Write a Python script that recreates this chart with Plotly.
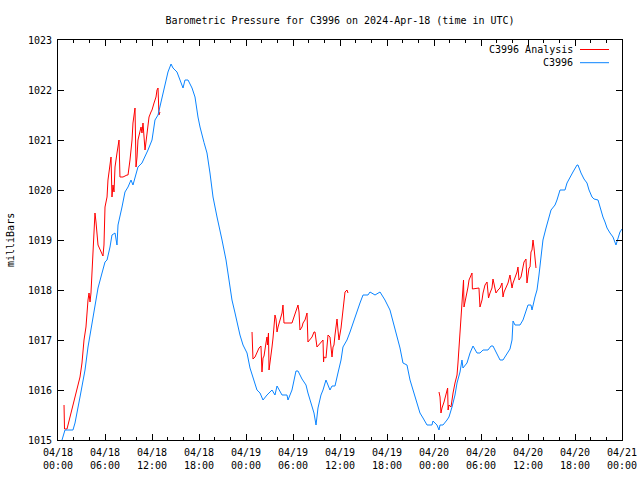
import pandas as pd
import plotly.graph_objects as go

START = "2024-04-18 00:00"
END = "2024-04-21 00:00"

# Hours since 2024-04-18 00:00 UTC and pressure (mb) for C3996
station_hours = [0.51, 0.89, 1.91, 2.17, 2.81, 3.45, 3.83, 4.34, 4.85, 5.11, 5.62, 6.0, 6.26, 6.64, 6.89, 7.28, 7.53, 7.66,
                 8.17, 8.55, 8.94, 9.32, 9.57, 9.83, 10.21, 10.72, 11.11, 11.49, 12.0, 12.38, 12.77, 13.28, 13.66, 14.04,
                 14.43, 14.68, 15.19, 15.57, 15.96, 16.21, 16.60, 17.11, 17.49, 17.87, 18.13, 18.64, 19.02, 19.40, 19.79,
                 20.30, 20.68, 20.94, 21.45, 21.83, 22.21, 22.60, 22.98, 23.23, 23.62, 24.13, 24.51, 24.89, 25.40, 25.79,
                 26.17, 26.68, 27.32, 27.70, 27.96, 28.60, 29.23, 29.36, 29.87, 30.38, 30.64, 31.15, 31.66, 31.91, 32.43,
                 32.68, 32.94, 33.19, 33.57, 33.83, 34.21, 34.72, 34.98, 35.36, 35.74, 36.13, 36.38, 36.89, 37.28, 37.66,
                 38.17, 38.55, 38.94, 39.57, 39.83, 40.47, 41.11, 41.74, 42.38, 43.02, 43.66, 44.04, 44.55, 44.94, 45.32,
                 45.83, 46.21, 46.60, 47.11, 47.74, 47.87, 48.38, 48.64, 48.77, 49.15, 49.66, 49.91, 50.30, 50.68, 50.94,
                 51.32, 51.57, 51.70, 52.21, 52.60, 52.98, 53.23, 53.49, 53.87, 54.26, 54.89, 55.28, 55.53, 55.79, 56.43,
                 56.81, 57.32, 57.70, 57.96, 58.09, 58.34, 58.98, 59.36, 59.74, 60.0, 60.38, 60.51, 60.89, 61.15, 61.40,
                 61.66, 61.91, 62.30, 62.55, 62.94, 63.45, 63.70, 64.09, 64.72, 64.98, 65.36, 65.74, 66.26, 66.38, 66.77,
                 67.15, 67.53, 67.79, 68.17, 68.43, 68.94, 69.19, 69.57, 69.83, 70.09, 70.47, 70.85, 71.23, 71.49, 71.74,
                 72.0]
station_mb = [1015.0, 1015.2, 1015.2, 1015.34, 1015.86, 1016.4, 1016.86, 1017.34, 1017.8, 1018.04, 1018.34, 1018.56,
              1018.6, 1018.86, 1019.1, 1019.14, 1018.9, 1019.3, 1019.66, 1019.96, 1020.06, 1020.2, 1020.1, 1020.26,
              1020.46, 1020.54, 1020.66, 1020.8, 1021.0, 1021.4, 1021.5, 1021.84, 1022.14, 1022.36, 1022.52, 1022.44,
              1022.36, 1022.2, 1022.04, 1022.2, 1022.2, 1022.04, 1021.86, 1021.46, 1021.26, 1020.95, 1020.74, 1020.34,
              1019.86, 1019.46, 1019.14, 1019.0, 1018.6, 1018.2, 1017.8, 1017.54, 1017.26, 1017.1, 1016.9, 1016.74,
              1016.44, 1016.24, 1016.0, 1015.94, 1015.8, 1015.9, 1016.0, 1015.9, 1016.08, 1015.9, 1015.9, 1015.8,
              1016.0, 1016.38, 1016.38, 1016.22, 1016.1, 1015.94, 1015.64, 1015.54, 1015.3, 1015.64, 1015.9, 1016.0,
              1016.2, 1016.0, 1016.08, 1016.08, 1016.34, 1016.6, 1016.86, 1017.0, 1017.16, 1017.34, 1017.54, 1017.74,
              1017.9, 1017.9, 1017.96, 1017.9, 1017.96, 1017.8, 1017.6, 1017.2, 1016.84, 1016.54, 1016.5, 1016.2,
              1016.0, 1015.76, 1015.54, 1015.44, 1015.3, 1015.3, 1015.38, 1015.3, 1015.2, 1015.3, 1015.3, 1015.4,
              1015.46, 1015.66, 1015.9, 1016.14, 1016.36, 1016.6, 1016.44, 1016.54, 1016.74, 1016.88, 1016.8, 1016.74,
              1016.74, 1016.8, 1016.8, 1016.88, 1016.88, 1016.8, 1016.6, 1016.6, 1016.72, 1016.82, 1017.0, 1017.38,
              1017.3, 1017.3, 1017.4, 1017.6, 1017.7, 1017.7, 1017.6, 1017.86, 1018.0, 1018.3, 1018.7, 1019.0,
              1019.24, 1019.4, 1019.6, 1019.7, 1019.8, 1020.0, 1020.0, 1020.14, 1020.26, 1020.36, 1020.5, 1020.5,
              1020.34, 1020.22, 1020.14, 1020.0, 1019.86, 1019.82, 1019.8, 1019.66, 1019.46, 1019.36, 1019.24,
              1019.14, 1019.06, 1018.9, 1019.04, 1019.16, 1019.22]

# Analysis series, three separate runs
analysis1_hours = [0.77, 0.83, 1.15, 2.43, 2.81, 3.06, 3.32, 3.57, 3.70, 3.83, 3.96, 4.09, 4.21, 4.30, 4.38, 4.47, 4.60,
                   4.72, 4.85, 5.11, 5.74, 5.87, 6.0, 6.26, 6.38, 6.64, 6.77, 6.89, 7.02, 7.15, 7.28, 7.53, 7.66, 7.79,
                   7.91, 8.30, 8.81, 8.94, 9.19, 9.45, 9.57, 9.70, 9.83, 9.96, 10.09, 10.21, 10.47, 10.60, 10.72, 10.85,
                   11.11, 11.36, 11.49, 11.62, 11.87, 12.0, 12.26, 12.51, 12.64, 12.77, 12.89, 13.02]
analysis1_mb = [1015.7, 1015.22, 1015.22, 1016.0, 1016.26, 1016.54, 1017.0, 1017.26, 1017.56, 1017.8, 1017.94, 1017.76,
                1017.94, 1018.2, 1018.6, 1018.86, 1019.2, 1019.54, 1019.36, 1018.9, 1018.68, 1018.9, 1019.66, 1019.86,
                1020.2, 1020.54, 1020.66, 1019.86, 1020.1, 1019.96, 1020.46, 1020.74, 1020.94, 1021.0, 1020.26,
                1020.26, 1020.3, 1020.3, 1020.6, 1021.0, 1021.34, 1021.54, 1021.64, 1020.46, 1020.66, 1021.0, 1021.16,
                1021.26, 1021.14, 1021.34, 1020.8, 1021.14, 1021.34, 1021.46, 1021.56, 1021.6, 1021.74, 1021.86,
                1022.0, 1022.04, 1021.5, 1021.56]
analysis2_hours = [24.77, 24.89, 25.15, 25.40, 25.66, 25.91, 26.04, 26.17, 26.30, 26.55, 26.68, 26.74, 26.87, 26.94,
                   27.19, 27.32, 27.45, 27.57, 27.70, 27.83, 27.96, 28.09, 28.34, 28.60, 28.72, 28.85, 29.87, 30.00,
                   30.26, 30.51, 30.64, 30.77, 30.89, 31.15, 31.28, 31.53, 31.79, 31.91, 32.17, 32.43, 32.68, 32.81,
                   33.06, 33.45, 33.83, 33.90, 33.96, 34.21, 34.34, 34.47, 34.72, 34.98, 35.11, 35.23, 35.36, 35.49,
                   35.62, 35.74, 35.87, 36.13, 36.26, 36.38, 36.64, 36.89, 37.02]
analysis2_mb = [1017.16, 1016.62, 1016.66, 1016.76, 1016.84, 1016.88, 1016.36, 1016.64, 1016.68, 1016.94, 1017.06,
                1016.9, 1017.14, 1016.4, 1016.66, 1016.86, 1017.04, 1017.22, 1017.5, 1017.42, 1017.16, 1017.26,
                1017.4, 1017.54, 1017.7, 1017.34, 1017.34, 1017.4, 1017.5, 1017.6, 1017.7, 1017.56, 1017.2, 1017.26,
                1017.34, 1017.4, 1017.54, 1016.96, 1017.0, 1017.06, 1017.16, 1017.16, 1016.86, 1016.94, 1017.0,
                1016.56, 1016.66, 1016.64, 1016.84, 1017.1, 1017.06, 1016.66, 1016.86, 1016.9, 1017.1, 1017.24,
                1017.42, 1017.2, 1017.0, 1017.24, 1017.44, 1017.6, 1017.96, 1018.0, 1017.94]
analysis3_hours = [48.64, 48.77, 48.89, 49.02, 49.28, 49.53, 49.66, 49.74, 49.80, 49.91, 50.17, 50.30, 50.43, 50.68,
                   50.94, 51.06, 51.19, 51.32, 51.45, 51.57, 51.70, 51.77, 51.83, 52.09, 52.21, 52.34, 52.47, 52.72,
                   52.85, 52.90, 53.49, 53.74, 53.87, 54.13, 54.26, 54.51, 54.77, 54.89, 54.96, 55.15, 55.40, 55.53,
                   55.66, 55.91, 56.17, 56.43, 56.68, 56.81, 56.94, 57.19, 57.45, 57.70, 57.96, 58.09, 58.34, 58.60,
                   58.72, 58.85, 59.11, 59.36, 59.49, 59.74, 59.87, 60.0, 60.13, 60.26, 60.38, 60.51, 60.64, 60.77,
                   60.89, 61.02]
analysis3_mb = [1015.96, 1015.86, 1015.54, 1015.64, 1015.76, 1015.9, 1016.0, 1016.04, 1015.6, 1015.7, 1015.66, 1015.86,
                1015.94, 1016.14, 1016.3, 1016.54, 1016.86, 1017.2, 1017.46, 1017.76, 1018.04, 1018.2, 1017.66,
                1017.84, 1017.94, 1018.06, 1018.2, 1018.3, 1018.34, 1018.02, 1018.04, 1018.04, 1017.66, 1017.8,
                1017.94, 1018.1, 1018.16, 1018.0, 1017.84, 1017.94, 1018.04, 1018.22, 1018.14, 1017.94, 1018.0,
                1018.04, 1018.14, 1017.86, 1017.96, 1018.04, 1018.14, 1018.3, 1018.04, 1018.14, 1018.24, 1018.36,
                1018.46, 1018.2, 1018.26, 1018.44, 1018.56, 1018.62, 1018.14, 1018.3, 1018.44, 1018.46, 1018.76,
                1018.8, 1019.0, 1018.84, 1018.64, 1018.44]

t0 = pd.Timestamp(START)


def to_times(hours):
    return [t0 + pd.Timedelta(hours=h) for h in hours]


an_x, an_y = [], []
for hs, vs in [(analysis1_hours, analysis1_mb), (analysis2_hours, analysis2_mb), (analysis3_hours, analysis3_mb)]:
    if an_x:
        an_x.append(None)
        an_y.append(None)
    an_x += to_times(hs)
    an_y += vs

RED = "#ff0000"
BLUE = "#0a84ff"
FONT = "DejaVu Sans Mono"

fig = go.Figure()
fig.add_trace(go.Scatter(x=an_x, y=an_y, mode="lines", line=dict(color=RED, width=1),
                         name="C3996 Analysis", showlegend=False, connectgaps=False))
fig.add_trace(go.Scatter(x=to_times(station_hours), y=station_mb, mode="lines",
                         line=dict(color=BLUE, width=1), name="C3996", showlegend=False))

fig.update_layout(
    width=640, height=480,
    margin=dict(l=58, r=18, t=40, b=40, autoexpand=False),
    showlegend=False,
    paper_bgcolor="white", plot_bgcolor="white",
    font=dict(family=FONT, size=10, color="black"),
    title=dict(text="Barometric Pressure for C3996 on 2024-Apr-18 (time in UTC)",
               x=0.5, xref="paper", xanchor="center", y=1 - 20 / 480, yref="container", yanchor="middle",
               font=dict(family=FONT, size=10, color="black")),
    xaxis=dict(type="date", range=[START, END], showline=True, linecolor="black", linewidth=1, mirror="ticks",
               ticks="inside", ticklen=6, tickcolor="black", tickwidth=1, automargin=False,
               tick0=START, dtick=6 * 3600 * 1000, tickformat="%m/%d<br>%H:%M", ticklabelstandoff=3,
               showgrid=False, zeroline=False,
               minor=dict(ticks="inside", dtick=2 * 3600 * 1000, ticklen=3, tickcolor="black", showgrid=False)),
    yaxis=dict(range=[1015, 1023], dtick=1, tickformat="d", showline=True, linecolor="black", linewidth=1,
               mirror="ticks", ticks="inside", ticklen=6, tickcolor="black", tickwidth=1, automargin=False,
               ticklabelstandoff=3, showgrid=False, zeroline=False),
)

# y-axis title
fig.add_annotation(text="milliBars", textangle=-90, xref="paper", yref="paper",
                   x=(10 - 58) / 564, y=0.5, xanchor="center", yanchor="middle", showarrow=False)

# gnuplot-style key (text left of the line sample)
key_rows = [("C3996 Analysis", RED, 49.5), ("C3996", BLUE, 62.7)]
for label, color, ypx in key_rows:
    yp = 1 - (ypx - 40) / 400
    fig.add_annotation(text=label, xref="paper", yref="paper", x=(575 - 58) / 564, y=yp,
                       xanchor="right", yanchor="middle", showarrow=False)
    fig.add_shape(type="line", xref="paper", yref="paper", x0=(580 - 58) / 564, x1=(609 - 58) / 564,
                  y0=yp, y1=yp, line=dict(color=color, width=1))

fig.write_html("out.html", config={"displayModeBar": False},
               post_script="document.body.style.margin='0px';")
